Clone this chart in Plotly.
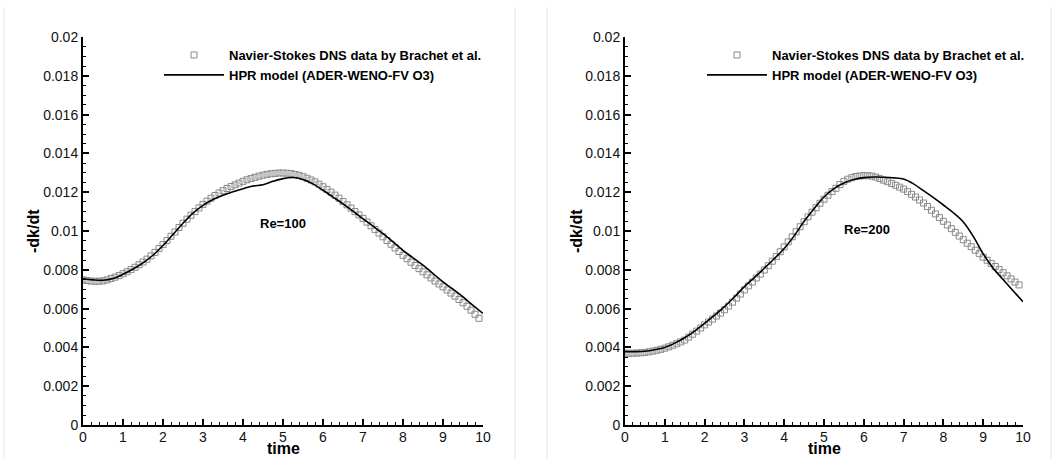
import plotly.graph_objects as go

# ---------------- data ----------------
t_dns = [round(0.1 * i, 1) for i in range(100)]  # 0.0 .. 9.9

dns_re100 = [
    0.00748, 0.00745, 0.00742, 0.00741, 0.00741, 0.00743, 0.00748, 0.00755, 0.00762, 0.00770,
    0.00780, 0.00790, 0.00801, 0.00813, 0.00826, 0.00840, 0.00855, 0.00872, 0.00890, 0.00910,
    0.00930, 0.00951, 0.00973, 0.00995, 0.01018, 0.01040, 0.01061, 0.01081, 0.01100, 0.01119,
    0.01137, 0.01154, 0.01169, 0.01183, 0.01196, 0.01208, 0.01219, 0.01229, 0.01238, 0.01247,
    0.01256, 0.01264, 0.01271, 0.01277, 0.01283, 0.01288, 0.01292, 0.01295, 0.01297, 0.01299,
    0.01299, 0.01298, 0.01296, 0.01292, 0.01287, 0.01280, 0.01272, 0.01263, 0.01253, 0.01241,
    0.01228, 0.01214, 0.01200, 0.01185, 0.01169, 0.01152, 0.01135, 0.01118, 0.01100, 0.01083,
    0.01065, 0.01046, 0.01027, 0.01008, 0.00989, 0.00970, 0.00951, 0.00932, 0.00913, 0.00894,
    0.00875, 0.00857, 0.00839, 0.00822, 0.00806, 0.00790, 0.00774, 0.00758, 0.00742, 0.00727,
    0.00712, 0.00696, 0.00680, 0.00664, 0.00647, 0.00630, 0.00612, 0.00592, 0.00571, 0.00550,
]

dns_re200 = [
    0.00370, 0.00370, 0.00370, 0.00371, 0.00372, 0.00374, 0.00377, 0.00381, 0.00385, 0.00390,
    0.00396, 0.00403, 0.00411, 0.00419, 0.00428, 0.00438, 0.00453, 0.00468, 0.00484, 0.00500,
    0.00516, 0.00531, 0.00546, 0.00562, 0.00577, 0.00594, 0.00613, 0.00633, 0.00654, 0.00675,
    0.00696, 0.00717, 0.00737, 0.00758, 0.00778, 0.00799, 0.00821, 0.00844, 0.00868, 0.00893,
    0.00918, 0.00944, 0.00970, 0.00996, 0.01022, 0.01048, 0.01073, 0.01097, 0.01120, 0.01143,
    0.01164, 0.01184, 0.01203, 0.01220, 0.01239, 0.01256, 0.01267, 0.01275, 0.01281, 0.01284,
    0.01285, 0.01285, 0.01283, 0.01278, 0.01270, 0.01262, 0.01254, 0.01245, 0.01236, 0.01226,
    0.01216, 0.01203, 0.01189, 0.01175, 0.01160, 0.01144, 0.01126, 0.01107, 0.01088, 0.01069,
    0.01050, 0.01031, 0.01012, 0.00993, 0.00974, 0.00955, 0.00937, 0.00919, 0.00901, 0.00883,
    0.00865, 0.00849, 0.00833, 0.00817, 0.00801, 0.00785, 0.00769, 0.00753, 0.00737, 0.00722,
]

t_hpr = [round(0.25 * i, 2) for i in range(41)]  # 0 .. 10

hpr_re100 = [
    0.00754, 0.00748, 0.00746, 0.00755, 0.00777, 0.00804, 0.00836, 0.00875, 0.00925, 0.00982,
    0.01040, 0.01092, 0.01132, 0.01162, 0.01184, 0.01202, 0.01218, 0.01232, 0.01238, 0.01256,
    0.01270, 0.01276, 0.01266, 0.01243, 0.01210, 0.01175, 0.01140, 0.01102, 0.01063, 0.01025,
    0.00986, 0.00944, 0.00900, 0.00862, 0.00824, 0.00781, 0.00738, 0.00700, 0.00660, 0.00617,
    0.00575,
]

hpr_re200 = [
    0.00378, 0.00378, 0.00380, 0.00388, 0.00400, 0.00422, 0.00450, 0.00484, 0.00524, 0.00566,
    0.00610, 0.00660, 0.00713, 0.00760, 0.00808, 0.00857, 0.00910, 0.00975, 0.01050, 0.01115,
    0.01175, 0.01218, 0.01247, 0.01265, 0.01275, 0.01278, 0.01277, 0.01274, 0.01268, 0.01243,
    0.01208, 0.01172, 0.01134, 0.01094, 0.01046, 0.00972, 0.00882, 0.00808, 0.00750, 0.00692,
    0.00635,
]

y_tick_vals = [0, 0.002, 0.004, 0.006, 0.008, 0.01, 0.012, 0.014, 0.016, 0.018, 0.02]
y_tick_text = ["0", "0.002", "0.004", "0.006", "0.008", "0.01", "0.012", "0.014", "0.016", "0.018", "0.02"]
x_tick_vals = [0, 1, 2, 3, 4, 5, 6, 7, 8, 9, 10]
x_tick_text = ["0", "1", "2", "3", "4", "5", "6", "7", "8", "9", "10"]

label_dns = "Navier-Stokes DNS data by Brachet et al."
label_hpr = "HPR model (ADER-WENO-FV O3)"
x_title = "time"
y_title = "-dk/dt"
panel_labels = ["Re=100", "Re=200"]

# ---------------- figure ----------------
W, H = 1055, 459
FONT = "Liberation Sans, Arial, sans-serif"
MARK = dict(symbol="square-open", size=6, color="#8a8a8a", line=dict(width=1, color="#8a8a8a"))
LINE = dict(color="black", width=1.6)

fig = go.Figure()
fig.add_trace(go.Scatter(x=t_dns, y=dns_re100, mode="markers", marker=MARK, name=label_dns,
                         xaxis="x", yaxis="y", legend="legend"))
fig.add_trace(go.Scatter(x=t_hpr, y=hpr_re100, mode="lines", line=LINE, name=label_hpr,
                         line_shape="spline", xaxis="x", yaxis="y", legend="legend"))
fig.add_trace(go.Scatter(x=t_dns, y=dns_re200, mode="markers", marker=MARK, name=label_dns,
                         xaxis="x2", yaxis="y2", legend="legend2"))
fig.add_trace(go.Scatter(x=t_hpr, y=hpr_re200, mode="lines", line=LINE, name=label_hpr,
                         line_shape="spline", xaxis="x2", yaxis="y2", legend="legend2"))


def px_x(p):
    return p / W


def px_y(p):
    return (H - p) / H


def xax(domain, anchor):
    return dict(
        domain=domain, anchor=anchor, range=[0, 10], automargin=False,
        tickmode="array", tickvals=x_tick_vals, ticktext=x_tick_text,
        ticks="inside", ticklen=6, tickwidth=1.5, tickcolor="black",
        ticklabelstandoff=-2,
        minor=dict(dtick=0.2, ticks="inside", ticklen=3, tickwidth=1, tickcolor="black"),
        showline=True, linewidth=2, linecolor="black", showgrid=False, zeroline=False,
        tickfont=dict(family=FONT, size=14, color="#111"),
    )


def yax(domain, anchor):
    return dict(
        domain=domain, anchor=anchor, range=[0, 0.02], automargin=False,
        tickmode="array", tickvals=y_tick_vals, ticktext=y_tick_text,
        ticks="inside", ticklen=6, tickwidth=1.5, tickcolor="black",
        minor=dict(dtick=0.0005, ticks="inside", ticklen=3, tickwidth=1, tickcolor="black"),
        showline=True, linewidth=2, linecolor="black", showgrid=False, zeroline=False,
        tickfont=dict(family=FONT, size=14, color="#111"),
    )


ydom = [px_y(425), px_y(37)]
legend_common = dict(
    xanchor="left", yanchor="top", bgcolor="rgba(0,0,0,0)", itemwidth=60,
    font=dict(family=FONT, size=13, color="black", weight="bold"),
)

title_font = dict(family=FONT, size=16, color="black", weight="bold")
label_font = dict(family=FONT, size=13, color="black", weight="bold")

annotations = [
    dict(text=panel_labels[0], x=5.0, y=0.0104, xref="x", yref="y", showarrow=False, font=label_font),
    dict(text=panel_labels[1], x=6.08, y=0.0101, xref="x2", yref="y2", showarrow=False, font=label_font),
]
for cx in (283, 824):
    annotations.append(dict(text=x_title, x=px_x(cx), y=px_y(459), xref="paper", yref="paper",
                            showarrow=False, font=title_font, xanchor="center", yanchor="bottom"))
for cx in (33, 576):
    annotations.append(dict(text=y_title, x=px_x(cx), y=px_y(231), xref="paper", yref="paper",
                            showarrow=False, font=title_font, textangle=-90,
                            xanchor="center", yanchor="middle"))

fig.update_layout(
    width=W, height=H, margin=dict(l=0, r=0, t=0, b=0, autoexpand=False),
    paper_bgcolor="white", plot_bgcolor="white",
    showlegend=True,
    xaxis=xax([px_x(83), px_x(483)], "y"),
    yaxis=yax(ydom, "x"),
    xaxis2=xax([px_x(625), px_x(1023)], "y2"),
    yaxis2=yax(ydom, "x2"),
    legend=dict(x=px_x(159), y=px_y(40), **legend_common),
    legend2=dict(x=px_x(702), y=px_y(40), **legend_common),
    annotations=annotations,
    shapes=[
        dict(type="line", xref="paper", yref="paper", x0=px_x(xp), x1=px_x(xp), y0=0, y1=px_y(7),
             line=dict(color="#e6e6e6", width=1))
        for xp in (4, 515, 547, 1051)
    ],
)

fig.write_html(
    "out.html",
    config={"displayModeBar": False},
    post_script="document.body.style.margin='0';document.body.style.overflow='hidden';",
)
